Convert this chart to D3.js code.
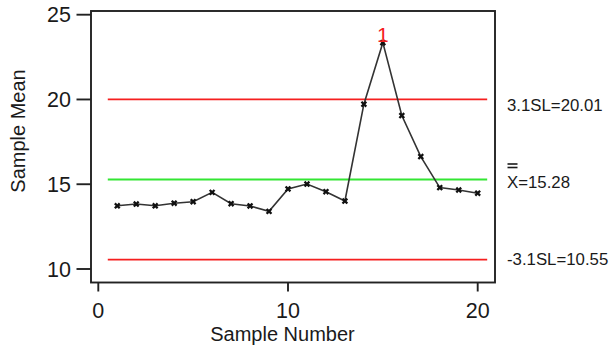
<!DOCTYPE html>
<html>
<head>
<meta charset="utf-8">
<script src="https://cdn.jsdelivr.net/npm/d3@7"></script>
<style>
html,body{margin:0;padding:0;background:#fff;}
svg{display:block;}
text{font-family:Arial,"Liberation Sans",sans-serif;}
</style>
</head>
<body>
<svg id="chart" width="613" height="348"></svg>
<script>
const sampleNumbers = [1,2,3,4,5,6,7,8,9,10,11,12,13,14,15,16,17,18,19,20];
const sampleMeans = [13.73,13.83,13.73,13.88,13.97,14.52,13.85,13.72,13.40,14.72,15.01,14.56,14.01,19.72,23.35,19.05,16.63,14.80,14.66,14.47];
const xTicks = [0,10,20];
const yTicks = [10,15,20,25];
const ucl = 20.01, centerLine = 15.28, lcl = 10.55;
const limitLabels = ["3.1SL=20.01", "X=15.28", "-3.1SL=10.55"];
const flaggedPoints = [{sample:15, label:"1"}];

const svg = d3.select("#chart");
const x = d3.scaleLinear().domain([0,20]).range([98.3,477.7]);
const y = d3.scaleLinear().domain([10,25]).range([269,14.7]);

const frame = {left:91, right:495, top:11, bottom:282.5};
const red = "#f51f1f", green = "#33e633";

// Control lines
const limitX = [0.5, 20.5];
[[ucl,red],[lcl,red],[centerLine,green]].forEach(([v,c])=>{
  svg.append("line").attr("x1",x(limitX[0])).attr("x2",x(limitX[1]))
    .attr("y1",y(v)).attr("y2",y(v)).attr("stroke",c).attr("stroke-width",1.8);
});

// Data line
const line = d3.line().x((d,i)=>x(sampleNumbers[i])).y(d=>y(d));
svg.append("path").datum(sampleMeans).attr("d",line)
  .attr("fill","none").attr("stroke","#333").attr("stroke-width",1.6);

// Markers (x)
const sym = d3.symbol().type(d3.symbolCross).size(26);
svg.selectAll(".mk").data(sampleMeans).enter().append("path")
  .attr("class","mk")
  .attr("d",sym)
  .attr("transform",(d,i)=>`translate(${x(sampleNumbers[i])},${y(d)}) rotate(45)`)
  .attr("fill","#111");

// Flag labels
svg.selectAll(".flag").data(flaggedPoints).enter().append("text")
  .attr("x",d=>x(d.sample)).attr("y",d=>y(sampleMeans[d.sample-1])-1)
  .attr("text-anchor","middle").attr("font-size",21).attr("fill",red)
  .text(d=>d.label);

// Frame
svg.append("rect").attr("x",frame.left).attr("y",frame.top)
  .attr("width",frame.right-frame.left).attr("height",frame.bottom-frame.top)
  .attr("fill","none").attr("stroke","#222").attr("stroke-width",1.9);

// Y axis ticks
const gy = svg.append("g");
yTicks.forEach(t=>{
  gy.append("line").attr("x1",76.5).attr("x2",frame.left).attr("y1",y(t)).attr("y2",y(t))
    .attr("stroke","#222").attr("stroke-width",1.9);
  gy.append("text").attr("x",71).attr("y",y(t)+7.5).attr("text-anchor","end")
    .attr("font-size",21.5).attr("fill","#1a1a1a").text(t);
});
// X axis ticks
const gx = svg.append("g");
xTicks.forEach(t=>{
  gx.append("line").attr("x1",x(t)).attr("x2",x(t)).attr("y1",frame.bottom).attr("y2",291.5)
    .attr("stroke","#222").attr("stroke-width",1.9);
  gx.append("text").attr("x",x(t)).attr("y",318).attr("text-anchor","middle")
    .attr("font-size",21.5).attr("fill","#1a1a1a").text(t);
});

// Axis titles
svg.append("text").attr("x",282.5).attr("y",340.5).attr("text-anchor","middle")
  .attr("font-size",20).attr("fill","#1a1a1a").text("Sample Number");
svg.append("text").attr("transform","translate(25,131) rotate(-90)").attr("text-anchor","middle")
  .attr("font-size",20).attr("fill","#1a1a1a").text("Sample Mean");

// Limit labels
svg.append("text").attr("x",507).attr("y",y(ucl)+11.5).attr("font-size",16.8).attr("fill","#1a1a1a").text(limitLabels[0]);
svg.append("text").attr("x",507).attr("y",y(centerLine)+9).attr("font-size",16.8).attr("fill","#1a1a1a").text(limitLabels[1]);
// double bar over X
[164, 167.5].forEach(yy=>{
  svg.append("line").attr("x1",507.5).attr("x2",517.5).attr("y1",yy).attr("y2",yy)
    .attr("stroke","#1a1a1a").attr("stroke-width",1.6);
});
svg.append("text").attr("x",507).attr("y",y(lcl)+5.5).attr("font-size",16.8).attr("fill","#1a1a1a").text(limitLabels[2]);
</script>
</body>
</html>
